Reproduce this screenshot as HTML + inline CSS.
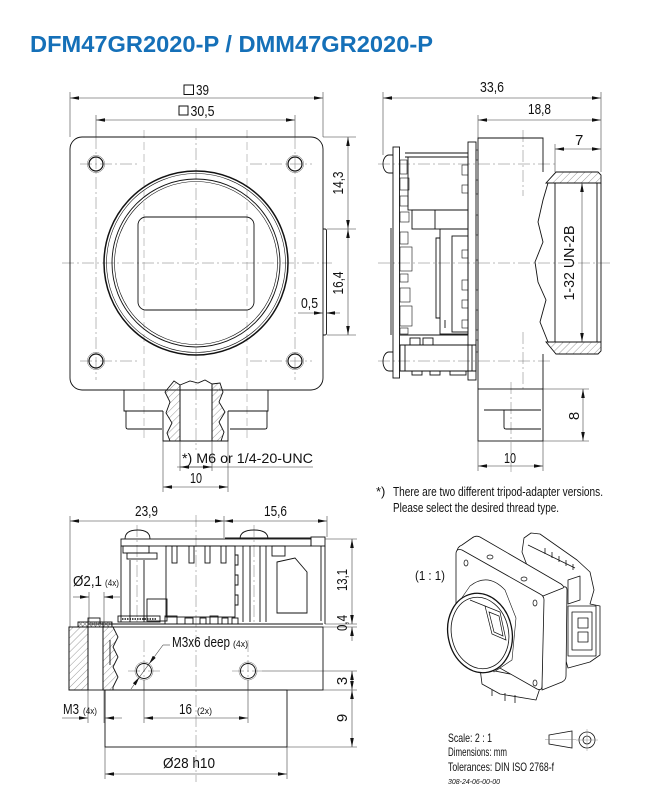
<!DOCTYPE html>
<html><head><meta charset="utf-8"><style>
html,body{margin:0;padding:0;background:#fff;}
svg{display:block;}
text{font-family:"Liberation Sans Narrow","Liberation Sans",sans-serif;fill:#111;}
</style></head><body>
<svg width="650" height="800" viewBox="0 0 650 800" xmlns="http://www.w3.org/2000/svg">
<defs>
<marker id="a" viewBox="0 0 10 4" refX="10" refY="2" markerWidth="9" markerHeight="3.6" markerUnits="userSpaceOnUse" orient="auto-start-reverse"><path d="M0,0L10,2L0,4z" fill="#111"/></marker>
<pattern id="h" width="5" height="5" patternUnits="userSpaceOnUse" patternTransform="rotate(45)"><line x1="0" y1="0" x2="0" y2="5" stroke="#555" stroke-width="0.6"/></pattern>
<pattern id="x" width="3" height="3" patternUnits="userSpaceOnUse" patternTransform="rotate(45)"><path d="M0,0V3M0,0H3" stroke="#333" stroke-width="0.7"/></pattern>
</defs>

<!-- Title -->
<text x="30" y="52" font-family="Liberation Sans" font-weight="bold" font-size="23" fill="#1570b8" style="fill:#1570b8;font-family:'Liberation Sans',sans-serif" textLength="403" lengthAdjust="spacingAndGlyphs">DFM47GR2020-P / DMM47GR2020-P</text>

<!-- ================= FRONT VIEW ================= -->
<g fill="none" stroke="#777" stroke-width="0.5" stroke-dasharray="12 3 2 3">
<line x1="196" y1="128" x2="196" y2="450"/>
<line x1="62" y1="263" x2="332" y2="263"/>
<line x1="80" y1="164" x2="140" y2="164"/>
<line x1="250" y1="164" x2="312" y2="164"/>
<line x1="80" y1="361" x2="140" y2="361"/>
<line x1="250" y1="361" x2="312" y2="361"/>
<line x1="96" y1="137" x2="96" y2="380"/>
<line x1="295" y1="137" x2="295" y2="380"/>
</g>
<g fill="none" stroke="#888" stroke-width="0.5" stroke-dasharray="8 4">
<line x1="144" y1="130" x2="144" y2="440"/>
<line x1="247" y1="130" x2="247" y2="440"/>
</g>
<g fill="none" stroke="#111" stroke-width="0.9">
<rect x="70" y="137" width="253" height="253" rx="12"/>
<path d="M323,229 h2 q1.5,0 1.5,2 v102 q0,2 -1.5,2 h-2"/>
<circle cx="96" cy="164" r="7" stroke-width="1.2"/>
<circle cx="295" cy="164" r="7" stroke-width="1.2"/>
<circle cx="96" cy="361" r="7" stroke-width="1.2"/>
<circle cx="295" cy="361" r="7" stroke-width="1.2"/>
<circle cx="196" cy="263" r="92" stroke-width="1.5"/>
<circle cx="196" cy="263" r="89.5" stroke-width="0.6"/>
<circle cx="196" cy="263" r="84" stroke-width="0.9"/>
<circle cx="196" cy="263" r="81.5" stroke-width="0.6"/>
<rect x="138" y="217" width="116" height="93" rx="8"/>
</g>
<g fill="none" stroke="#666" stroke-width="0.5">
<circle cx="96" cy="164" r="8.6"/><circle cx="295" cy="164" r="8.6"/>
<circle cx="96" cy="361" r="8.6"/><circle cx="295" cy="361" r="8.6"/>
</g>
<!-- tripod front -->
<g fill="none" stroke="#111" stroke-width="0.9">
<path d="M124,390 V411 H163 M228,411 H268 V390"/>
<path d="M126,411 V427 Q126,429 128,429 H162"/>
<path d="M230,429 H265 Q267,429 267,427 V411"/>
<path d="M180,385 L174,381 L165,392 L170,402 L166,413 L172,423 L167,433 L170,441 L180,441 Z" fill="url(#h)"/>
<path d="M212,384 L220,383 L223,392 L219,402 L225,412 L219,422 L224,432 L221,441 L212,441 Z" fill="url(#h)"/>
<path d="M180,385 L190,381 L198,383 L205,380 L212,384"/>
<line x1="180" y1="385" x2="180" y2="441"/>
<line x1="212" y1="384" x2="212" y2="441"/>
<path d="M163,411 V441 H228 V411"/>
</g>
<!-- front dims -->
<g fill="none" stroke="#333" stroke-width="0.55">
<line x1="70" y1="92" x2="70" y2="137"/>
<line x1="323" y1="92" x2="323" y2="137"/>
<line x1="70" y1="98" x2="323" y2="98" marker-start="url(#a)" marker-end="url(#a)"/>
<line x1="96" y1="115" x2="96" y2="137"/>
<line x1="295" y1="115" x2="295" y2="137"/>
<line x1="96" y1="120" x2="295" y2="120" marker-start="url(#a)" marker-end="url(#a)"/>
<line x1="323" y1="137" x2="356" y2="137"/>
<line x1="327" y1="229" x2="356" y2="229"/>
<line x1="327" y1="335" x2="356" y2="335"/>
<line x1="348" y1="137" x2="348" y2="229" marker-start="url(#a)" marker-end="url(#a)"/>
<line x1="348" y1="229" x2="348" y2="335" marker-start="url(#a)" marker-end="url(#a)"/>
<line x1="298" y1="313" x2="323" y2="313" marker-end="url(#a)"/>
<line x1="340" y1="313" x2="326" y2="313" marker-end="url(#a)"/>
<line x1="163" y1="441" x2="163" y2="492"/>
<line x1="228" y1="441" x2="228" y2="492"/>
<line x1="163" y1="487" x2="228" y2="487" marker-start="url(#a)" marker-end="url(#a)"/>
<line x1="180" y1="441" x2="180" y2="471"/>
<line x1="212" y1="441" x2="212" y2="471"/>
<line x1="177" y1="467" x2="313" y2="467"/>
<line x1="196" y1="467" x2="180" y2="467" marker-end="url(#a)"/>
<line x1="196" y1="467" x2="212" y2="467" marker-end="url(#a)"/>
</g>
<rect x="184" y="85" width="9.5" height="9.5" fill="none" stroke="#111" stroke-width="1"/>
<text x="196" y="95" font-size="15" textLength="13" lengthAdjust="spacingAndGlyphs">39</text>
<rect x="179" y="106" width="9" height="9" fill="none" stroke="#111" stroke-width="1"/>
<text x="190.5" y="116" font-size="15" textLength="24" lengthAdjust="spacingAndGlyphs">30,5</text>
<text transform="translate(343,183) rotate(-90)" font-size="15" text-anchor="middle" textLength="23" lengthAdjust="spacingAndGlyphs">14,3</text>
<text transform="translate(343,283) rotate(-90)" font-size="15" text-anchor="middle" textLength="23" lengthAdjust="spacingAndGlyphs">16,4</text>
<text x="301" y="308" font-size="15" textLength="17" lengthAdjust="spacingAndGlyphs">0,5</text>
<text x="182" y="463" font-size="14" textLength="131" lengthAdjust="spacingAndGlyphs">*) M6 or 1/4-20-UNC</text>
<text x="190" y="483" font-size="15" textLength="12" lengthAdjust="spacingAndGlyphs">10</text>

<!-- ================= SIDE VIEW ================= -->
<g fill="none" stroke="#777" stroke-width="0.5" stroke-dasharray="12 3 2 3">
<line x1="378" y1="164" x2="555" y2="164"/>
<line x1="378" y1="263" x2="612" y2="263"/>
<line x1="378" y1="361" x2="552" y2="361"/>
<line x1="523" y1="130" x2="523" y2="196"/>
<line x1="523" y1="332" x2="523" y2="392"/>
<line x1="511" y1="382" x2="511" y2="472"/>
</g>
<g fill="none" stroke="#111" stroke-width="0.9">
<path d="M543,172 V138 H478 V389"/>
<path d="M548,183 L543,200 L538,222 L543,242 L535,262 L538,282 L546,300 L540,322 L548,342"/>
<path d="M543,354 V389"/>
<rect x="478" y="389" width="65" height="52"/>
<path d="M484,410 H541 M504,410 V427 Q504,429 506,429 H541"/>
<path d="M546,183 L556,172 H598 L601,175 V183 Z" fill="url(#h)"/>
<path d="M546,342 H601 V351 L598,354 H556 Z" fill="url(#h)"/>
<path d="M555,183 V342 M597,183 V342 M601,183 V342"/>
<rect x="393" y="147" width="6.5" height="231"/>
<path d="M393,155 H389 A6,9 0 0 0 389,173 H393"/>
<path d="M393,352 H389 A6,9.5 0 0 0 389,371 H393"/>
<line x1="391" y1="228" x2="391" y2="335"/>
<rect x="468" y="142" width="8" height="238"/>
<path d="M405,153 H468 M405,157 H468"/>
<rect x="408" y="157" width="60" height="53"/>
<rect x="412" y="210" width="56" height="19"/>
<line x1="435" y1="210" x2="435" y2="229"/>
<rect x="440" y="229" width="28" height="105"/>
<rect x="452" y="236" width="16" height="96"/>
<path d="M440,238 h-4 v80 h4 M445,320 v8"/>
<path d="M400,335 H468 M400,345 H476"/>
<rect x="410" y="338" width="10" height="7"/>
<rect x="423" y="338" width="10" height="7"/>
<rect x="400" y="345" width="76" height="26"/>
<path d="M405,345 V371 M472,345 V371"/>
<path d="M400,371 H476"/>
<rect x="412" y="371" width="10" height="4"/><rect x="430" y="371" width="10" height="4"/><rect x="450" y="371" width="16" height="4"/>
</g>
<g fill="none" stroke="#111" stroke-width="0.6">
<rect x="400" y="160" width="7" height="14"/><rect x="400" y="178" width="9" height="12"/>
<rect x="400" y="196" width="8" height="10"/><rect x="400" y="212" width="9" height="10"/>
<rect x="400" y="232" width="8" height="12"/><rect x="400" y="247" width="12" height="24"/>
<rect x="400" y="274" width="8" height="8"/><rect x="400" y="288" width="10" height="14"/>
<rect x="400" y="306" width="12" height="20"/><rect x="400" y="328" width="8" height="6"/>
<rect x="476" y="150" width="2" height="10"/><rect x="476" y="180" width="2" height="14"/>
<rect x="476" y="215" width="2" height="20"/><rect x="476" y="260" width="2" height="30"/>
<rect x="476" y="310" width="2" height="20"/><rect x="476" y="340" width="2" height="12"/>
<rect x="462" y="165" width="6" height="10"/><rect x="462" y="185" width="6" height="8"/>
<rect x="462" y="250" width="6" height="8"/><rect x="462" y="280" width="6" height="10"/>
<rect x="462" y="300" width="6" height="8"/><rect x="462" y="320" width="6" height="8"/>
</g>
<g fill="none" stroke="#333" stroke-width="0.55">
<line x1="383" y1="92" x2="383" y2="155"/>
<line x1="601" y1="92" x2="601" y2="172"/>
<line x1="383" y1="98" x2="601" y2="98" marker-start="url(#a)" marker-end="url(#a)"/>
<line x1="478" y1="115" x2="478" y2="138"/>
<line x1="478" y1="120" x2="601" y2="120" marker-start="url(#a)" marker-end="url(#a)"/>
<line x1="555" y1="144" x2="555" y2="172"/>
<line x1="555" y1="149" x2="601" y2="149" marker-start="url(#a)" marker-end="url(#a)"/>
<line x1="582" y1="183" x2="582" y2="342" marker-start="url(#a)" marker-end="url(#a)"/>
<line x1="543" y1="389" x2="589" y2="389"/>
<line x1="543" y1="441" x2="589" y2="441"/>
<line x1="583" y1="389" x2="583" y2="441" marker-start="url(#a)" marker-end="url(#a)"/>
<line x1="478" y1="441" x2="478" y2="471"/>
<line x1="543" y1="441" x2="543" y2="471"/>
<line x1="478" y1="466" x2="543" y2="466" marker-start="url(#a)" marker-end="url(#a)"/>
</g>
<text x="480" y="92" font-size="15" textLength="24" lengthAdjust="spacingAndGlyphs">33,6</text>
<text x="528" y="114" font-size="15" textLength="23" lengthAdjust="spacingAndGlyphs">18,8</text>
<text x="575" y="145" font-size="15">7</text>
<text transform="translate(574,263) rotate(-90)" font-size="15" text-anchor="middle" textLength="75" lengthAdjust="spacingAndGlyphs">1-32 UN-2B</text>
<text transform="translate(579,416) rotate(-90)" font-size="15" text-anchor="middle">8</text>
<text x="504" y="463" font-size="15" textLength="12" lengthAdjust="spacingAndGlyphs">10</text>
<text x="376" y="496" font-size="13">*)</text>
<text x="393" y="496" font-size="12.5" textLength="210" lengthAdjust="spacingAndGlyphs">There are two different tripod-adapter versions.</text>
<text x="393" y="512" font-size="12.5" textLength="166" lengthAdjust="spacingAndGlyphs">Please select the desired thread type.</text>

<!-- ================= BOTTOM VIEW ================= -->
<g fill="none" stroke="#777" stroke-width="0.5" stroke-dasharray="12 3 2 3">
<line x1="196" y1="515" x2="196" y2="782"/>
<line x1="137" y1="525" x2="137" y2="625"/>
<line x1="254" y1="525" x2="254" y2="625"/>
<line x1="128" y1="671" x2="160" y2="671"/>
<line x1="232" y1="671" x2="262" y2="671"/>
<line x1="144" y1="640" x2="144" y2="690"/>
<line x1="248" y1="640" x2="248" y2="690"/>
</g>
<g fill="none" stroke="#111" stroke-width="0.9">
<rect x="121" y="539" width="190" height="7"/>
<rect x="311" y="537" width="14" height="9"/>
<line x1="225" y1="538" x2="311" y2="538"/>
<path d="M125,539 Q125,530 137.5,530 Q150,530 150,539"/>
<path d="M240,539 Q240,530 254,530 Q268,530 268,539"/>
<path d="M121,546 V622"/>
<path d="M130,560 V622 M144,560 V622"/>
<rect x="123" y="546" width="26" height="7"/>
<rect x="127" y="553" width="30" height="6"/>
<rect x="147" y="599" width="20" height="22"/>
<rect x="166" y="546" width="69" height="71"/>
<rect x="172" y="546" width="5" height="17"/><rect x="189" y="546" width="5" height="17"/>
<rect x="205" y="546" width="5" height="17"/><rect x="221" y="546" width="5" height="17"/>
<path d="M235,555 h3 v10 h-3 M235,575 h3 v10 h-3 M235,595 h3 v10 h-3"/>
<path d="M243,546 V622 M266,546 V622 M250,546 V622 M260,546 V622"/>
<rect x="272" y="546" width="13" height="10"/>
<path d="M277,562 L295,558 L307,572 L307,613 L277,613 Z"/>
<path d="M321,546 V621 M325,546 V624"/>
<path d="M90,624 H323"/>
<rect x="88" y="618" width="12" height="6"/>
<rect x="118" y="616" width="42" height="6"/>
<path d="M122,619 h34" stroke-dasharray="1.5 1" stroke-width="1.5"/>
<rect x="165" y="616" width="12" height="8"/>
<rect x="185" y="618" width="8" height="6"/><rect x="200" y="618" width="6" height="6"/>
<rect x="210" y="616" width="8" height="8"/><rect x="222" y="618" width="6" height="6"/>
<rect x="232" y="618" width="6" height="6"/>
<rect x="69" y="627" width="254" height="63"/>
<rect x="69" y="627" width="19" height="63" fill="url(#h)"/>
<path d="M103,627 H113 L118,637 L113,647 L118,657 L113,667 L118,677 L113,687 V690 H103 Z" fill="url(#h)"/>
<path d="M88,622 V690 M103,622 V690 M110,640 V665"/>
<rect x="78" y="622" width="34" height="5" fill="url(#x)"/>
<rect x="105" y="690" width="182" height="57"/>
<circle cx="144" cy="671" r="7.5"/>
<circle cx="248" cy="671" r="7.5"/>
</g>
<g fill="none" stroke="#666" stroke-width="0.5">
<circle cx="144" cy="671" r="9"/><circle cx="248" cy="671" r="9"/>
</g>
<g fill="none" stroke="#333" stroke-width="0.55">
<line x1="70" y1="516" x2="70" y2="627"/>
<line x1="224" y1="516" x2="224" y2="538"/>
<line x1="327" y1="516" x2="327" y2="537"/>
<line x1="70" y1="521" x2="224" y2="521" marker-start="url(#a)" marker-end="url(#a)"/>
<line x1="224" y1="521" x2="327" y2="521" marker-start="url(#a)" marker-end="url(#a)"/>
<line x1="325" y1="539" x2="357" y2="539"/>
<line x1="325" y1="624" x2="357" y2="624"/>
<line x1="323" y1="627" x2="357" y2="627"/>
<line x1="262" y1="671" x2="357" y2="671"/>
<line x1="323" y1="690" x2="357" y2="690"/>
<line x1="287" y1="747" x2="357" y2="747"/>
<line x1="352" y1="539" x2="352" y2="624" marker-start="url(#a)" marker-end="url(#a)"/>
<line x1="352" y1="641" x2="352" y2="627" marker-end="url(#a)"/>
<line x1="352" y1="671" x2="352" y2="690" marker-start="url(#a)" marker-end="url(#a)"/>
<line x1="352" y1="690" x2="352" y2="747" marker-start="url(#a)" marker-end="url(#a)"/>
<line x1="89" y1="592" x2="89" y2="622"/>
<line x1="104" y1="592" x2="104" y2="622"/>
<line x1="73" y1="597" x2="89" y2="597" marker-end="url(#a)"/>
<line x1="120" y1="597" x2="104" y2="597" marker-end="url(#a)"/>
<line x1="88" y1="690" x2="88" y2="723"/>
<line x1="105" y1="747" x2="105" y2="779"/>
<line x1="287" y1="747" x2="287" y2="779"/>
<line x1="104" y1="690" x2="104" y2="723"/>
<line x1="62" y1="718" x2="88" y2="718" marker-end="url(#a)"/>
<line x1="122" y1="718" x2="105" y2="718" marker-end="url(#a)"/>
<line x1="144" y1="680" x2="144" y2="723"/>
<line x1="248" y1="680" x2="248" y2="723"/>
<line x1="144" y1="718" x2="248" y2="718" marker-start="url(#a)" marker-end="url(#a)"/>
<line x1="105" y1="774" x2="287" y2="774" marker-start="url(#a)" marker-end="url(#a)"/>
<line x1="170" y1="645" x2="163" y2="645"/>
<line x1="163" y1="645" x2="149" y2="664" marker-end="url(#a)"/>
<line x1="131" y1="689" x2="139.5" y2="677" marker-end="url(#a)"/>
<line x1="149" y1="664" x2="139.5" y2="677"/>
</g>
<text x="135" y="516" font-size="15" textLength="23" lengthAdjust="spacingAndGlyphs">23,9</text>
<text x="264" y="516" font-size="15" textLength="23" lengthAdjust="spacingAndGlyphs">15,6</text>
<text x="73" y="586" font-size="15" textLength="29" lengthAdjust="spacingAndGlyphs">Ø2,1</text>
<text x="105" y="586" font-size="9.5" textLength="14" lengthAdjust="spacingAndGlyphs">(4x)</text>
<text transform="translate(347,580) rotate(-90)" font-size="15" text-anchor="middle" textLength="22" lengthAdjust="spacingAndGlyphs">13,1</text>
<text transform="translate(347,623) rotate(-90)" font-size="15" text-anchor="middle" textLength="16" lengthAdjust="spacingAndGlyphs">0,4</text>
<text transform="translate(347,681) rotate(-90)" font-size="15" text-anchor="middle">3</text>
<text transform="translate(347,718) rotate(-90)" font-size="15" text-anchor="middle">9</text>
<text x="172" y="647" font-size="15" textLength="58" lengthAdjust="spacingAndGlyphs">M3x6 deep</text>
<text x="233" y="647" font-size="9.5" textLength="15" lengthAdjust="spacingAndGlyphs">(4x)</text>
<text x="63" y="714" font-size="15" textLength="16" lengthAdjust="spacingAndGlyphs">M3</text>
<text x="83" y="714" font-size="9.5" textLength="14" lengthAdjust="spacingAndGlyphs">(4x)</text>
<text x="179" y="714" font-size="15" textLength="13" lengthAdjust="spacingAndGlyphs">16</text>
<text x="197" y="714" font-size="9.5" textLength="15" lengthAdjust="spacingAndGlyphs">(2x)</text>
<text x="163" y="768" font-size="15" textLength="52" lengthAdjust="spacingAndGlyphs">Ø28 h10</text>

<!-- ================= ISO VIEW ================= -->
<text x="415" y="580" font-size="13" textLength="30" lengthAdjust="spacingAndGlyphs">(1 : 1)</text>
<g fill="#fff" stroke="#111" stroke-width="0.8" stroke-linejoin="round">
<path d="M522,552 L524,538 L531,533 L540,534 L577,560 L590,572 L594,590 L590,604 L600,606 L600,655 L590,662 L568,668 L560,640 L540,600 Z"/>
<path d="M528,545 L575,568 M545,548 v6 M552,552 v6 M559,556 v6 M566,560 v6 M573,564 v6" fill="none"/>
<rect x="568" y="606" width="28" height="50"/>
<path d="M572,612 h20 v38 h-20 z M578,618 h10 v10 h-10z M578,632 h10 v10 h-10z" fill="none"/>
<path d="M568,580 l12,-4 v24 l-12,4z" fill="none"/>
<path d="M480,668 L482,684 L500,694 L536,700 L540,688 L520,676 Z"/>
<path d="M492,690 v6 M505,693 v8 M515,695 v8" fill="none"/>
<path d="M543,595 L563,587 Q567,586 567,590 L566,676 Q566,680 562,682 L542,690 Z"/>
<path d="M457,552 Q457,547 462,545 L472,538 Q476,535 480,537 L561,584 Q565,587 563,588 L543,596 Z"/>
<path d="M462,550 L540,594 Q544,596 544,600 L542,686 Q542,691 537,689 L461,646 Q456,643 456,638 L456,554 Q456,548 462,550 Z"/>
<path d="M452,612 L470,586 Q488,572 505,590 L516,618 L512,660 L494,672 Z" stroke-width="0.6"/>
<ellipse cx="480" cy="633" rx="32" ry="40" transform="rotate(-12 480 633)" stroke-width="1.3"/>
<ellipse cx="480" cy="633" rx="28.5" ry="36" transform="rotate(-12 480 633)"/>
</g>
<g fill="none" stroke="#111" stroke-width="0.7">
<path d="M485,606 L500,612 L506,640 L492,634 Z"/>
<path d="M489,612 L499,616 L503,636 L494,632 Z"/>
<path d="M470,600 L485,606"/>
<ellipse cx="466" cy="563" rx="2" ry="3"/>
<ellipse cx="535" cy="603" rx="2" ry="3"/>
<ellipse cx="535" cy="683" rx="2" ry="3"/>
<ellipse cx="490" cy="557" rx="3" ry="2"/>
<ellipse cx="524" cy="579" rx="3" ry="2"/>
</g>

<!-- ================= TITLE BLOCK ================= -->
<text x="448" y="742" font-size="12" textLength="44" lengthAdjust="spacingAndGlyphs">Scale: 2 : 1</text>
<text x="448" y="756" font-size="12" textLength="59" lengthAdjust="spacingAndGlyphs">Dimensions: mm</text>
<text x="448" y="771" font-size="12" textLength="106" lengthAdjust="spacingAndGlyphs">Tolerances: DIN ISO 2768-f</text>
<text x="448" y="784" font-size="7" font-style="italic" textLength="52" lengthAdjust="spacingAndGlyphs">308-24-06-00-00</text>
<g fill="none" stroke="#111" stroke-width="0.8">
<path d="M549,735 L572,731 V748 L549,744 Z"/>
<circle cx="587" cy="740" r="8"/>
<circle cx="587" cy="740" r="4"/>
</g>
<g fill="none" stroke="#777" stroke-width="0.4">
<line x1="545" y1="739.5" x2="576" y2="739.5"/>
<line x1="576" y1="740" x2="598" y2="740"/>
<line x1="587" y1="729" x2="587" y2="751"/>
</g>
</svg>
</body></html>
